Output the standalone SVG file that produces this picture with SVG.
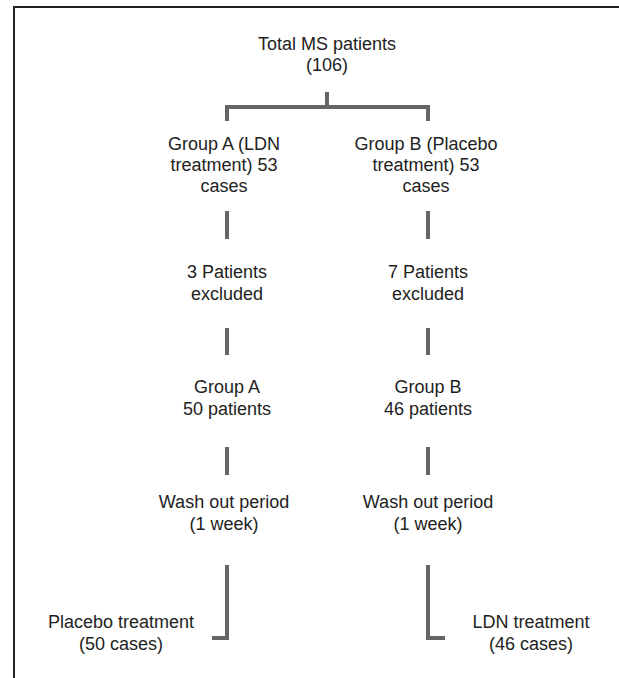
<svg xmlns="http://www.w3.org/2000/svg" width="619" height="678" viewBox="0 0 619 678">
<style>
.t{font-family:"Liberation Sans",Arial,Helvetica,sans-serif;font-size:18px;fill:#222;text-anchor:middle}
.c{stroke:#666;stroke-width:4;fill:none;stroke-linecap:butt;stroke-linejoin:miter}
.b{stroke:#222;stroke-width:2;fill:none}
</style>
<rect width="619" height="678" fill="#fff"/>
<path class="b" d="M14 678 V7 H619"/>
<g id="connectors">
<path class="c" d="M327 92 V107"/>
<path class="c" d="M227 121 V107 H428 V121"/>
<path class="c" d="M227 211 V239"/>
<path class="c" d="M428 211 V239"/>
<path class="c" d="M227 328 V355"/>
<path class="c" d="M428 328 V355"/>
<path class="c" d="M227 447 V475"/>
<path class="c" d="M428 447 V475"/>
<path class="c" d="M227 565 V638 H212"/>
<path class="c" d="M428 565 V638 H445"/>
</g>
<g id="total"><text class="t" x="327" y="50">Total MS patients</text><text class="t" x="327" y="71">(106)</text></g>
<g id="groupA"><text class="t" x="224" y="150">Group A (LDN</text><text class="t" x="224" y="171">treatment) 53</text><text class="t" x="224" y="192">cases</text></g>
<g id="groupB"><text class="t" x="426" y="150">Group B (Placebo</text><text class="t" x="426" y="171">treatment) 53</text><text class="t" x="426" y="192">cases</text></g>
<g id="exclA"><text class="t" x="227" y="278">3 Patients</text><text class="t" x="227" y="300">excluded</text></g>
<g id="exclB"><text class="t" x="428" y="278">7 Patients</text><text class="t" x="428" y="300">excluded</text></g>
<g id="groupA2"><text class="t" x="227" y="393">Group A</text><text class="t" x="227" y="415">50 patients</text></g>
<g id="groupB2"><text class="t" x="428" y="393">Group B</text><text class="t" x="428" y="415">46 patients</text></g>
<g id="washA"><text class="t" x="224" y="508">Wash out period</text><text class="t" x="224" y="530">(1 week)</text></g>
<g id="washB"><text class="t" x="428" y="508">Wash out period</text><text class="t" x="428" y="530">(1 week)</text></g>
<g id="placebo"><text class="t" x="121" y="628">Placebo treatment</text><text class="t" x="121" y="650">(50 cases)</text></g>
<g id="ldn"><text class="t" x="531" y="628">LDN treatment</text><text class="t" x="531" y="650">(46 cases)</text></g>
</svg>
